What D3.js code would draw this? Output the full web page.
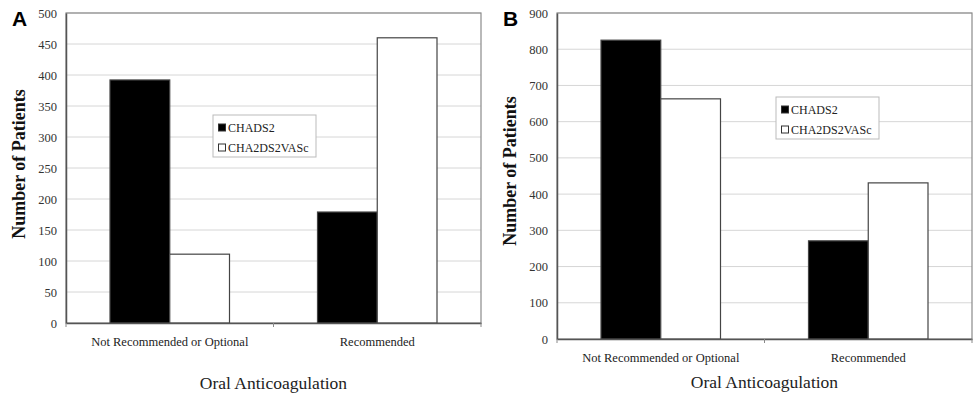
<!DOCTYPE html>
<html>
<head>
<meta charset="utf-8">
<script src="https://cdn.jsdelivr.net/npm/d3@7"></script>
<style>
  body { margin: 0; background: #fff; }
</style>
</head>
<body>
<div id="chart"></div>
<script>
// Chart data
var categories = ["Not Recommended or Optional", "Recommended"];
var seriesNames = ["CHADS2", "CHA2DS2VASc"];
var seriesColors = ["#000000", "#ffffff"];

var panelAChads = [392, 179];
var panelAVasc = [111, 460];
var panelATicks = [0, 50, 100, 150, 200, 250, 300, 350, 400, 450, 500];

var panelBChads = [825, 271];
var panelBVasc = [663, 431];
var panelBTicks = [0, 100, 200, 300, 400, 500, 600, 700, 800, 900];

var serif = "'Liberation Serif'";

var svg = d3.select("#chart")
    .append("svg")
    .attr("width", 973)
    .attr("height", 401);

// Draws one panel of the figure
function drawPanel(opts) {
    var g = svg.append("g")
        .attr("transform", "translate(" + opts.left + "," + opts.top + ")");
    var width = opts.width, height = opts.height;

    var x0 = d3.scaleBand()
        .domain(categories)
        .range([0, width]);
    var x1 = d3.scaleBand()
        .domain(seriesNames)
        .range([44, x0.bandwidth() - 44]);
    var y = d3.scaleLinear()
        .domain([0, d3.max(opts.ticks)])
        .range([height, 0]);

    // gridlines
    g.append("g")
        .selectAll("line")
        .data(opts.ticks.slice(1))
        .join("line")
        .attr("x1", 0).attr("x2", width)
        .attr("y1", d => y(d)).attr("y2", d => y(d))
        .attr("stroke", "#d6d6d6")
        .attr("stroke-width", 1);

    // plot frame
    g.append("rect")
        .attr("x", 0).attr("y", 0)
        .attr("width", width).attr("height", height)
        .attr("fill", "none")
        .attr("stroke", "#8a8a8a")
        .attr("stroke-width", 1.2);

    // bars
    var rows = categories.map((c, i) => ({cat: c, values: [opts.chads[i], opts.vasc[i]]}));
    g.append("g")
        .selectAll("g")
        .data(rows)
        .join("g")
        .attr("transform", d => "translate(" + x0(d.cat) + ",0)")
        .selectAll("rect")
        .data(d => d.values.map((v, j) => ({name: seriesNames[j], value: v, color: seriesColors[j]})))
        .join("rect")
        .attr("x", d => x1(d.name))
        .attr("y", d => y(d.value))
        .attr("width", x1.bandwidth())
        .attr("height", d => height - y(d.value))
        .attr("fill", d => d.color)
        .attr("stroke", "#444")
        .attr("stroke-width", 1.2);

    // y axis
    var yAxis = g.append("g")
        .call(d3.axisLeft(y).tickValues(opts.ticks).tickSize(0).tickPadding(9));
    yAxis.select(".domain").attr("stroke", "#555").attr("stroke-width", 1.5);
    yAxis.selectAll("text")
        .style("font-family", serif)
        .style("font-size", "12.5px")
        .attr("fill", "#333");

    // x axis
    var xAxis = g.append("g")
        .attr("transform", "translate(0," + height + ")")
        .call(d3.axisBottom(x0).tickSize(0).tickPadding(14));
    xAxis.select(".domain").attr("stroke", "#555").attr("stroke-width", 1.5);
    xAxis.selectAll("text")
        .style("font-family", serif)
        .style("font-size", "12.5px")
        .attr("fill", "#222");
    // small tick marks between categories
    xAxis.append("g")
        .selectAll("line")
        .data([0, 1, 2])
        .join("line")
        .attr("x1", d => d * x0.bandwidth()).attr("x2", d => d * x0.bandwidth())
        .attr("y1", 0).attr("y2", 4)
        .attr("stroke", "#888");

    // axis titles
    g.append("text")
        .attr("x", width / 2)
        .attr("y", opts.xTitleY)
        .attr("text-anchor", "middle")
        .style("font-family", serif)
        .style("font-size", "17.5px")
        .attr("fill", "#222")
        .text("Oral Anticoagulation");

    g.append("text")
        .attr("transform", "rotate(-90)")
        .attr("x", -opts.yTitleCenter)
        .attr("y", opts.yTitleX)
        .attr("text-anchor", "middle")
        .style("font-family", serif)
        .style("font-size", "18px")
        .style("font-weight", "bold")
        .attr("fill", "#111")
        .text("Number of Patients");

    // panel letter
    g.append("text")
        .attr("x", opts.letterX)
        .attr("y", 13)
        .style("font-family", "'Liberation Sans'")
        .style("font-size", "21px")
        .style("font-weight", "bold")
        .attr("fill", "#000")
        .text(opts.letter);

    // legend
    var lg = g.append("g")
        .attr("transform", "translate(" + opts.legendX + "," + opts.legendY + ")");
    lg.append("rect")
        .attr("width", 103).attr("height", 42)
        .attr("fill", "#fff")
        .attr("stroke", "#bbb")
        .attr("stroke-width", 1);
    seriesNames.forEach((name, i) => {
        lg.append("rect")
            .attr("x", 5.5).attr("y", 9 + i * 20)
            .attr("width", 7).attr("height", 7)
            .attr("fill", seriesColors[i])
            .attr("stroke", "#333")
            .attr("stroke-width", 1);
        lg.append("text")
            .attr("x", 15).attr("y", 17 + i * 20)
            .style("font-family", serif)
            .style("font-size", "12px")
            .attr("fill", "#222")
            .text(name);
    });
}

drawPanel({
    letter: "A", left: 66, top: 13, width: 415, height: 310,
    chads: panelAChads, vasc: panelAVasc, ticks: panelATicks,
    xTitleY: 376, yTitleCenter: 151, yTitleX: -41, letterX: -54,
    legendX: 147, legendY: 102
});

drawPanel({
    letter: "B", left: 557, top: 13, width: 415, height: 326,
    chads: panelBChads, vasc: panelBVasc, ticks: panelBTicks,
    xTitleY: 375, yTitleCenter: 158, yTitleX: -41, letterX: -54,
    legendX: 219, legendY: 84
});
</script>
</body>
</html>
